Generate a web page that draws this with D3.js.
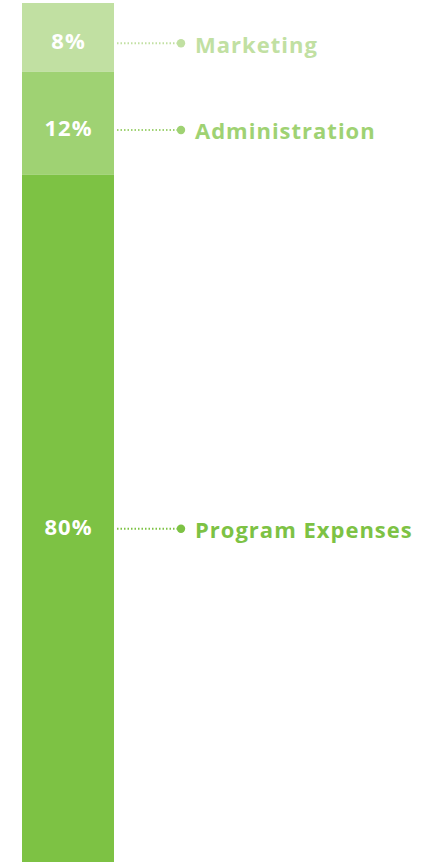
<!DOCTYPE html>
<html><head><meta charset="utf-8">
<script src="https://cdn.jsdelivr.net/npm/d3@7"></script>
<style>html,body{margin:0;padding:0;background:#fff;}svg{display:block;}</style>
</head><body>
<svg id="c" width="435" height="862"></svg>
<script>
const categories = ["Marketing", "Administration", "Program Expenses"];
const values = [8, 12, 80];
const colors = ["#c1e0a2", "#9fd273", "#7dc244"];

const svg = d3.select("#c");
const total = d3.sum(values);
let acc = 0;
const segs = values.map((v, i) => { const s = {cat: categories[i], v, y0: acc, y1: acc + v, color: colors[i]}; acc += v; return s; });

const y = d3.scaleLinear().domain([0, total]).range([3, 862]);
const ly = d3.scaleLinear().domain([0, total]).range([8.6, 875.6]);
const barX = 22, barW = 92;

const g = svg.append("g");
g.selectAll("rect").data(segs).join("rect")
  .attr("x", barX).attr("width", barW)
  .attr("y", d => y(d.y0)).attr("height", d => y(d.y1) - y(d.y0))
  .attr("fill", d => d.color);

const mid = d => ly((d.y0 + d.y1) / 2);

g.selectAll("text.pct").data(segs).join("text").attr("class", "pct")
  .attr("x", barX + barW / 2 + 0.5).attr("y", d => mid(d) + 6)
  .attr("text-anchor", "middle")
  .attr("fill", "#fff").attr("font-family", "'Open Sans', sans-serif").attr("font-weight", 700).attr("font-size", 22)
  .attr("letter-spacing", 1)
  .text(d => d.v + "%");

g.selectAll("line.conn").data(segs).join("line").attr("class", "conn")
  .attr("x1", 117).attr("x2", 180).attr("y1", mid).attr("y2", mid)
  .attr("stroke", d => d.color).attr("stroke-width", 2).attr("stroke-dasharray", "1.5,2");

g.selectAll("circle").data(segs).join("circle")
  .attr("cx", 181).attr("cy", mid).attr("r", 4.2).attr("fill", d => d.color);

g.selectAll("text.cat").data(segs).join("text").attr("class", "cat")
  .attr("x", 195).attr("y", d => mid(d) + 9.4)
  .attr("fill", d => d.color).attr("font-family", "'Open Sans', sans-serif").attr("font-weight", 700).attr("font-size", 22)
  .attr("letter-spacing", 1)
  .text(d => d.cat);
</script>
</body></html>
